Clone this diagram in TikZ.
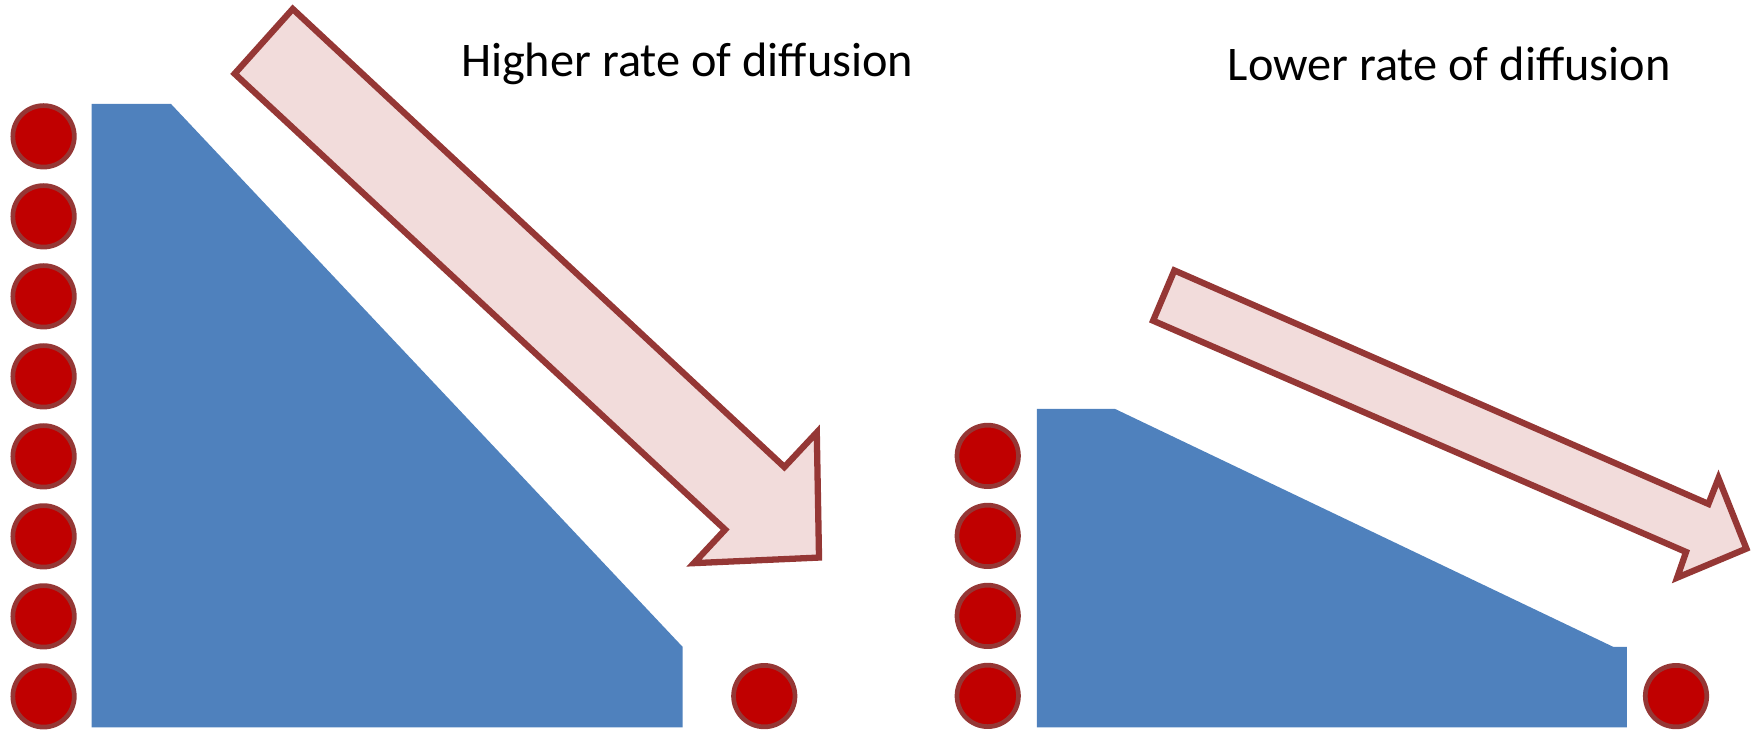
\documentclass[tikz,border=0pt]{standalone}
\usepackage{fontspec}
\setmainfont{Carlito}
\usepackage{xcolor}
\usetikzlibrary{positioning}

\definecolor{slabblue}{HTML}{4F81BD}
\definecolor{dotred}{HTML}{C00000}
\definecolor{rimred}{HTML}{953735}
\definecolor{pinkfill}{HTML}{F2DCDB}

\begin{document}
\begin{tikzpicture}[
    x=0.1mm, y=-0.1mm,
    dot/.style={circle, draw=rimred, fill=dotred, line width=1.2pt, minimum size=5.5mm, inner sep=0pt},
    slab/.style={fill=slabblue, draw=none},
    bigarrow/.style={draw=rimred, fill=pinkfill, line width=1.6pt, line join=miter},
    lbl/.style={font=\fontsize{12.3}{15}\selectfont, inner sep=0pt}
]
\useasboundingbox (0,0) rectangle (1568,654);

% Left panel: steep gradient
\fill [slab] (82,93) -- (153,93) -- (611,579) -- (611,651) -- (82,651) -- cycle;
\foreach \i in {0,...,7}
    \node [dot] (ldot\i) at (39,{122+71.6*\i}) {};
\node [dot] (lfar) at (684,623) {};
\draw [bigarrow] (210,66) -- (262,8) -- (702,418) -- (731,387) -- (733,499) -- (621,504) -- (649,474) -- cycle;
\node [lbl] (hightxt) at (615,57) {Higher rate of diffusion};

% Right panel: shallow gradient
\fill [slab] (928,366) -- (998,366) -- (1444,579) -- (1456,579) -- (1456,651) -- (928,651) -- cycle;
\foreach \i in {0,...,3}
    \node [dot] (rdot\i) at (884,{408+71.6*\i}) {};
\node [dot] (rfar) at (1500,623) {};
\draw [bigarrow] (1032,287) -- (1051,242) -- (1529,451) -- (1538,428) -- (1563,491) -- (1501,517) -- (1509,494) -- cycle;
\node [lbl] (lowtxt) at (1297,57) {Lower rate of diffusion};

\end{tikzpicture}
\end{document}
